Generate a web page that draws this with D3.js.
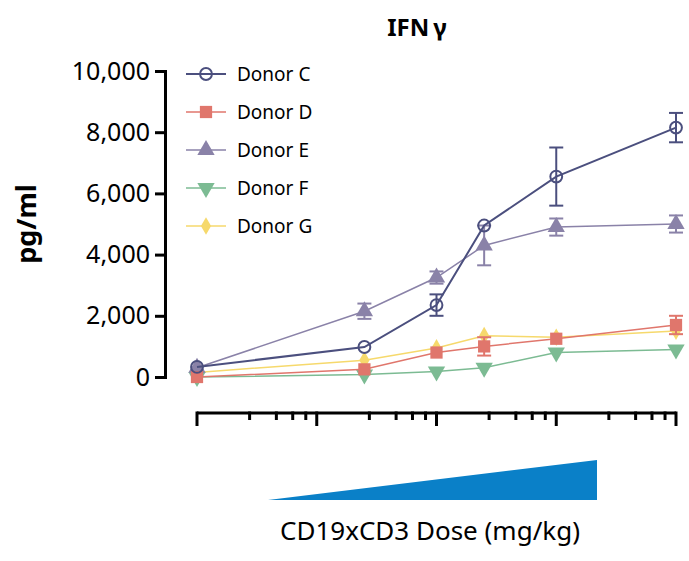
<!DOCTYPE html>
<html><head><meta charset="utf-8">
<script src="https://cdn.jsdelivr.net/npm/d3@7"></script>
<style>body{margin:0;background:#fff}text{font-family:"Noto Sans",sans-serif}</style>
</head><body><svg id="chart" width="689" height="561"></svg>
<script>
// data
var doses = [0.001, 0.025, 0.1, 0.25, 1, 10];
var donors = ['Donor C', 'Donor D', 'Donor E', 'Donor F', 'Donor G'];
var donorC = [330, 980, 2350, 4950, 6550, 8150];
var donorCErr = [0, 0, 350, 0, 950, 480];
var donorD = [0, 250, 800, 1000, 1250, 1700];
var donorDErr = [0, 0, 0, 300, 0, 300];
var donorE = [300, 2150, 3250, 4300, 4900, 5000];
var donorEErr = [0, 250, 200, 650, 280, 280];
var donorF = [0, 80, 180, 300, 800, 900];
var donorG = [150, 550, 950, 1350, 1300, 1500];
var yTicks = [0, 2000, 4000, 6000, 8000, 10000];
var minorFactors = [2.75, 4.6, 6.3, 8.1];

var series = [
  {name: donors[0], v: donorC, e: donorCErr, color: '#4b4f7e', sym: 'circle', w: 2},
  {name: donors[1], v: donorD, e: donorDErr, color: '#e0766c', sym: 'square', w: 1.5},
  {name: donors[2], v: donorE, e: donorEErr, color: '#8a82a8', sym: 'up', w: 1.5},
  {name: donors[3], v: donorF, e: null, color: '#7cbb93', sym: 'down', w: 1.5},
  {name: donors[4], v: donorG, e: null, color: '#f6d96c', sym: 'diamond', w: 1.5}
];

var svg = d3.select('#chart');
var x = d3.scaleLog().domain([0.001, 10]).range([197, 676]);
var y = d3.scaleLinear().domain([0, 10000]).range([377, 71]);

// title
svg.append('text').attr('x', 417).attr('y', 36).attr('text-anchor', 'middle')
  .attr('font-size', 24).attr('font-weight', 'bold').text('IFN\u2009\u03b3');

// y axis
var ya = svg.append('g').attr('transform', 'translate(165,0)')
  .call(d3.axisLeft(y).tickValues(yTicks).tickFormat(d3.format(',')).tickSize(10));
ya.select('.domain').attr('stroke-width', 3);
ya.selectAll('line').attr('stroke-width', 3);
ya.selectAll('text').attr('font-size', 25).attr('font-family', 'Noto Sans, sans-serif').attr('dx', '-2');
svg.append('text').attr('transform', 'translate(36,224) rotate(-90)').attr('text-anchor', 'middle')
  .attr('font-size', 27).attr('font-weight', 'bold').text('pg/ml');

// x axis with log ticks
var xa = svg.append('g').attr('transform', 'translate(0,413)');
xa.append('line').attr('x1', 197).attr('x2', 676).attr('stroke', '#000').attr('stroke-width', 3);
var majors = [0.001, 0.01, 0.1, 1, 10];
var minors = [];
majors.slice(0, 4).forEach(function(m) { minorFactors.forEach(function(f) { minors.push(m * f); }); });
xa.selectAll('.maj').data(majors).enter().append('line')
  .attr('x1', d => x(d)).attr('x2', d => x(d)).attr('y1', -1.5).attr('y2', 13)
  .attr('stroke', '#000').attr('stroke-width', 3);
xa.selectAll('.min').data(minors).enter().append('line')
  .attr('x1', d => x(d)).attr('x2', d => x(d)).attr('y1', -1.5).attr('y2', 7)
  .attr('stroke', '#000').attr('stroke-width', 3);

// dose wedge
svg.append('polygon').attr('points', '268,500 597,500 597,460').attr('fill', '#0a80c8');
svg.append('text').attr('x', 430).attr('y', 540).attr('text-anchor', 'middle')
  .attr('font-size', 26).text('CD19xCD3 Dose (mg/kg)');

function symbolFor(s) {
  if (s == 'circle') return d3.symbol().type(d3.symbolCircle).size(110)();
  if (s == 'square') return d3.symbol().type(d3.symbolSquare).size(150)();
  if (s == 'diamond') return d3.symbol().type(d3.symbolDiamond).size(90)();
  return d3.symbol().type(d3.symbolTriangle).size(130)();
}

var line = d3.line().x((d, i) => x(doses[i])).y(d => y(d));
// draw back to front
series.slice().reverse().forEach(function(s) {
  var g = svg.append('g');
  g.append('path').datum(s.v).attr('d', line).attr('fill', 'none')
    .attr('stroke', s.color).attr('stroke-width', s.w);
  if (s.e) {
    s.v.forEach(function(v, i) {
      if (!s.e[i]) return;
      var cx = x(doses[i]);
      g.append('line').attr('x1', cx).attr('x2', cx).attr('y1', y(v + s.e[i])).attr('y2', y(v - s.e[i]))
        .attr('stroke', s.color).attr('stroke-width', 2);
      [v + s.e[i], v - s.e[i]].forEach(function(b) {
        g.append('line').attr('x1', cx - 7).attr('x2', cx + 7).attr('y1', y(b)).attr('y2', y(b))
          .attr('stroke', s.color).attr('stroke-width', 2);
      });
    });
  }
  g.selectAll('.pt').data(s.v).enter().append('path')
    .attr('d', symbolFor(s.sym))
    .attr('transform', (d, i) => 'translate(' + x(doses[i]) + ',' + y(d) + ')' + (s.sym == 'down' ? ' rotate(180)' : ''))
    .attr('fill', s.sym == 'circle' ? 'none' : s.color)
    .attr('stroke', s.sym == 'circle' ? s.color : 'none').attr('stroke-width', 2);
});

// legend
var lg = svg.append('g');
series.forEach(function(s, i) {
  var ly = 74 + i * 38;
  lg.append('line').attr('x1', 186).attr('x2', 226).attr('y1', ly).attr('y2', ly).attr('stroke', s.color).attr('stroke-width', s.w);
  lg.append('path').attr('d', symbolFor(s.sym))
    .attr('transform', 'translate(206,' + ly + ')' + (s.sym == 'down' ? ' rotate(180)' : ''))
    .attr('fill', s.sym == 'circle' ? 'none' : s.color)
    .attr('stroke', s.sym == 'circle' ? s.color : 'none').attr('stroke-width', 2);
  lg.append('text').attr('x', 237).attr('y', ly + 7).attr('font-size', 19).text(s.name);
});
</script></body></html>
